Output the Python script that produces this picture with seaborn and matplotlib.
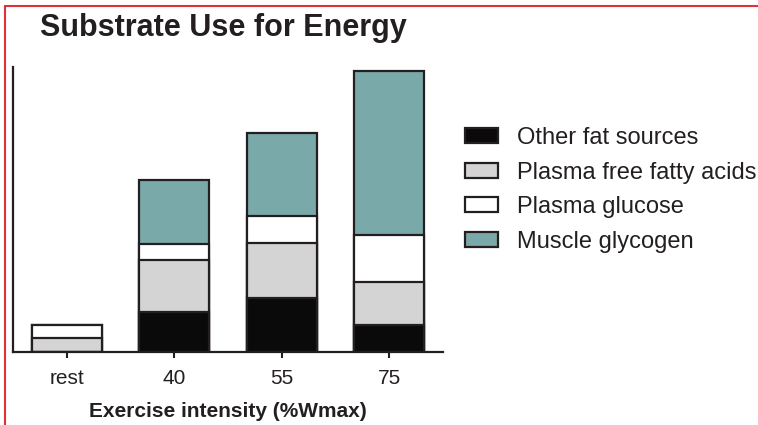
import matplotlib
matplotlib.use("Agg")
import matplotlib.pyplot as plt
import numpy as np
import pandas as pd
import seaborn as sns
from matplotlib.lines import Line2D
from matplotlib.patches import Patch

# data (relative energy contribution, arbitrary units)
intensity = ["rest", "40", "55", "75"]
other_fat = [0, 40, 54, 27]
plasma_ffa = [14, 52, 55, 43]
plasma_glucose = [13, 16, 27, 47]
muscle_glycogen = [0, 64, 83, 164]

substrates = ["Other fat sources", "Plasma free fatty acids", "Plasma glucose", "Muscle glycogen"]
colors = ["#0a0a0a", "#d4d4d4", "#ffffff", "#79aaa9"]
edge = "#231f20"

df = pd.DataFrame({
    "Intensity": intensity,
    "Other fat sources": other_fat,
    "Plasma free fatty acids": plasma_ffa,
    "Plasma glucose": plasma_glucose,
    "Muscle glycogen": muscle_glycogen,
})
cum = df[substrates].cumsum(axis=1)

sns.set_style("white")
plt.rcParams["font.family"] = ["Liberation Sans", "DejaVu Sans"]

fig = plt.figure(figsize=(7.58, 4.25), dpi=100)
ax = fig.add_axes([13 / 758, 1 - 352 / 425, 430 / 758, 285 / 425])

# stacked bars: draw the tallest cumulative layer first
for name, col in reversed(list(zip(substrates, colors))):
    sns.barplot(x=df["Intensity"], y=cum[name], color=col, edgecolor=edge,
                linewidth=1.6, width=0.65, saturation=1, ax=ax)

ax.set_xlim(-0.5, 3.5)
ax.set_ylim(0, 285)
ax.set_yticks([])
ax.set_ylabel("")
ax.set_xlabel("Exercise intensity (%Wmax)", fontsize=15, fontweight="bold",
              color="#231f20", labelpad=10)
ax.tick_params(axis="x", length=4, width=1.5, color=edge, labelsize=15,
               labelcolor="#231f20", pad=8, direction="out", bottom=True)
for s in ["top", "right"]:
    ax.spines[s].set_visible(False)
for s in ["left", "bottom"]:
    ax.spines[s].set_linewidth(1.6)
    ax.spines[s].set_color(edge)

fig.text(40 / 758, 1 - 28 / 425, "Substrate Use for Energy", fontsize=22,
         fontweight="bold", color="#231f20", va="center", ha="left")

handles = [Patch(facecolor=c, edgecolor=edge, linewidth=1.6) for c in colors]
fig.legend(handles, substrates, loc="upper left",
           bbox_to_anchor=(465 / 758, 1 - 127 / 425), frameon=False,
           fontsize=17, handlelength=1.4, handleheight=0.62, handletextpad=0.8,
           labelspacing=0.53, borderpad=0, borderaxespad=0, labelcolor="#231f20")

# red frame lines at the left and top
red = "#e0303a"
fig.add_artist(Line2D([5 / 758, 5 / 758], [0, 1 - 6 / 425], color=red, lw=1.5,
                      transform=fig.transFigure))
fig.add_artist(Line2D([5 / 758, 1], [1 - 6 / 425, 1 - 6 / 425], color=red, lw=1.5,
                      transform=fig.transFigure))

fig.savefig("out.png", dpi=100)
